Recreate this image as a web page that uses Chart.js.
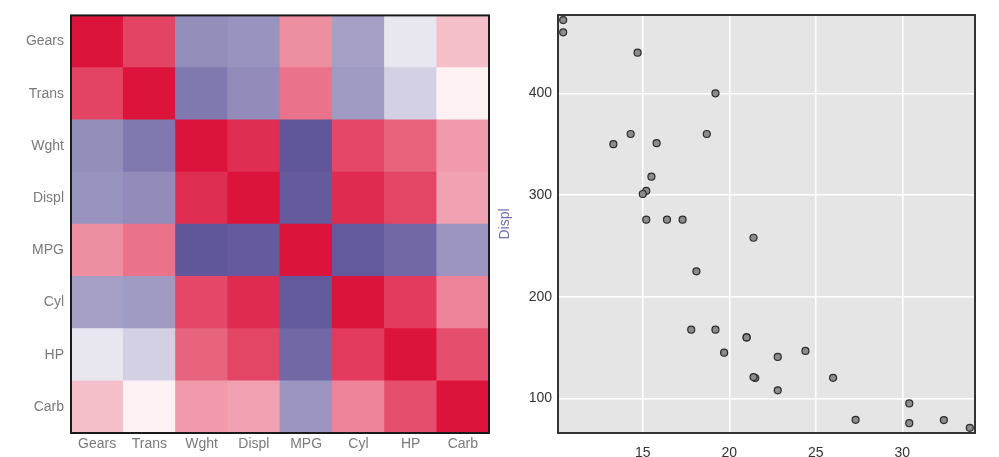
<!DOCTYPE html>
<html lang="en">
<head>
    <meta charset="UTF-8">
    <title>mtcars correlations</title>
    <script src="https://cdn.jsdelivr.net/npm/chart.js"></script>
    <style>
        body {
            margin: 0;
            background-color: #ffffff;
            font-family: "Liberation Sans", Arial, sans-serif;
        }
        .panel {
            position: absolute;
            top: 0;
        }
        #heatPanel { left: 0; }
        #scatterPanel { left: 495px; }
    </style>
</head>
<body>
    <div class="panel" id="heatPanel">
        <canvas id="heatCanvas" width="495" height="457"></canvas>
    </div>
    <div class="panel" id="scatterPanel">
        <canvas id="scatterCanvas" width="504" height="457"></canvas>
    </div>

    <script>
        // variables in the heatmap, top row first
        let varNames = ["Gears", "Trans", "Wght", "Displ", "MPG", "Cyl", "HP", "Carb"];

        // correlation matrix, same order as varNames
        let corr = [
            [ 1.000,  0.794, -0.583, -0.556,  0.480, -0.493, -0.126,  0.274],
            [ 0.794,  1.000, -0.692, -0.591,  0.600, -0.523, -0.243,  0.058],
            [-0.583, -0.692,  1.000,  0.888, -0.868,  0.782,  0.659,  0.428],
            [-0.556, -0.591,  0.888,  1.000, -0.848,  0.902,  0.791,  0.395],
            [ 0.480,  0.600, -0.868, -0.848,  1.000, -0.852, -0.776, -0.551],
            [-0.493, -0.523,  0.782,  0.902, -0.852,  1.000,  0.832,  0.527],
            [-0.126, -0.243,  0.659,  0.791, -0.776,  0.832,  1.000,  0.750],
            [ 0.274,  0.058,  0.428,  0.395, -0.551,  0.527,  0.750,  1.000]
        ];

        // scatter: MPG vs Displ
        let mpg = [21.0, 21.0, 22.8, 21.4, 18.7, 18.1, 14.3, 24.4, 22.8, 19.2, 17.8, 16.4, 17.3, 15.2, 10.4, 10.4,
                   14.7, 32.4, 30.4, 33.9, 21.5, 15.5, 15.2, 13.3, 19.2, 27.3, 26.0, 30.4, 15.8, 19.7, 15.0, 21.4];
        let displ = [160, 160, 108, 258, 360, 225, 360, 146.7, 140.8, 167.6, 167.6, 275.8, 275.8, 275.8, 472, 460,
                     440, 78.7, 75.7, 71.1, 120.1, 318, 304, 350, 400, 79, 120.3, 95.1, 351, 145, 301, 121];
        let xTicks = [15, 20, 25, 30];
        let yTicks = [100, 200, 300, 400];

        function corrColor(v) {
            // white -> crimson for positive, white -> dark slate blue for negative
            let target = v >= 0 ? [220, 20, 60] : [72, 61, 139];
            let a = Math.abs(v);
            let r = Math.round(255 + (target[0] - 255) * a);
            let g = Math.round(255 + (target[1] - 255) * a);
            let b = Math.round(255 + (target[2] - 255) * a);
            return `rgb(${r},${g},${b})`;
        }

        function boxPlugin(color) {
            return {
                id: 'box',
                beforeDraw(chart, args, opts) {
                    if (!opts.fill) return;
                    let a = chart.chartArea;
                    chart.ctx.save();
                    chart.ctx.fillStyle = opts.fill;
                    chart.ctx.fillRect(a.left, a.top, a.right - a.left, a.bottom - a.top);
                    chart.ctx.restore();
                },
                afterDraw(chart) {
                    let a = chart.chartArea;
                    chart.ctx.save();
                    chart.ctx.strokeStyle = color;
                    chart.ctx.lineWidth = 2;
                    chart.ctx.strokeRect(a.left, a.top, a.right - a.left, a.bottom - a.top);
                    chart.ctx.restore();
                }
            };
        }

        let tickFont = { family: "'Liberation Sans', Arial, sans-serif", size: 14 };

        // heatmap as stacked bars, bottom row (Carb) is the first dataset
        let heatDatasets = [];
        for (let i = varNames.length - 1; i >= 0; i--) {
            heatDatasets.push({
                label: varNames[i],
                data: varNames.map(() => 1),
                backgroundColor: corr[i].map(corrColor),
                borderWidth: 0,
                barPercentage: 1,
                categoryPercentage: 1
            });
        }

        new Chart(document.getElementById("heatCanvas"), {
            type: 'bar',
            data: { labels: varNames, datasets: heatDatasets },
            options: {
                responsive: false,
                animation: false,
                layout: { padding: { top: 15, right: 6, left: 0, bottom: 0 } },
                plugins: {
                    legend: { display: false },
                    tooltip: { enabled: false }
                },
                scales: {
                    x: {
                        stacked: true,
                        grid: { display: false, drawTicks: false },
                        border: { display: false },
                        ticks: { color: '#7a7a7a', font: tickFont, padding: 3 },
                        afterFit: (s) => { s.height = 24; }
                    },
                    y: {
                        stacked: true,
                        min: 0,
                        max: varNames.length,
                        grid: { display: false, drawTicks: false },
                        border: { display: false },
                        ticks: {
                            color: '#7a7a7a',
                            font: tickFont,
                            padding: 7,
                            callback: (v) => varNames[varNames.length - 1 - Math.floor(v)]
                        },
                        afterBuildTicks: (s) => {
                            s.ticks = varNames.map((n, i) => ({ value: i + 0.5 }));
                        },
                        afterFit: (s) => { s.width = 71; }
                    }
                }
            },
            plugins: [boxPlugin('#1a1a1a')]
        });

        new Chart(document.getElementById("scatterCanvas"), {
            type: 'scatter',
            data: {
                datasets: [{
                    data: mpg.map((m, i) => ({ x: m, y: displ[i] })),
                    pointRadius: 3.5,
                    backgroundColor: '#8c8c8c',
                    borderColor: '#2a2a2a',
                    borderWidth: 1.2
                }]
            },
            options: {
                responsive: false,
                animation: false,
                layout: { padding: { top: 15, right: 24, left: 0, bottom: 0 } },
                plugins: {
                    legend: { display: false },
                    tooltip: { enabled: false },
                    box: { fill: '#e5e5e5' }
                },
                scales: {
                    x: {
                        min: 10.1,
                        max: 34.2,
                        grid: { color: '#ffffff', lineWidth: 1.5, drawTicks: false },
                        border: { display: false },
                        ticks: { color: '#333333', font: tickFont, padding: 12, includeBounds: false },
                        afterBuildTicks: (s) => { s.ticks = xTicks.map(v => ({ value: v })); },
                        afterFit: (s) => { s.height = 24; }
                    },
                    y: {
                        min: 66,
                        max: 477,
                        title: {
                            display: true,
                            text: 'Displ',
                            color: '#7070b0',
                            font: tickFont,
                            padding: { top: 2, bottom: 0 }
                        },
                        grid: { color: '#ffffff', lineWidth: 1.5, drawTicks: false },
                        border: { display: false },
                        ticks: { color: '#333333', font: tickFont, padding: 6, includeBounds: false },
                        afterBuildTicks: (s) => { s.ticks = yTicks.map(v => ({ value: v })); },
                        afterFit: (s) => { s.width = 63; }
                    }
                }
            },
            plugins: [boxPlugin('#333333')]
        });
    </script>
</body>
</html>
